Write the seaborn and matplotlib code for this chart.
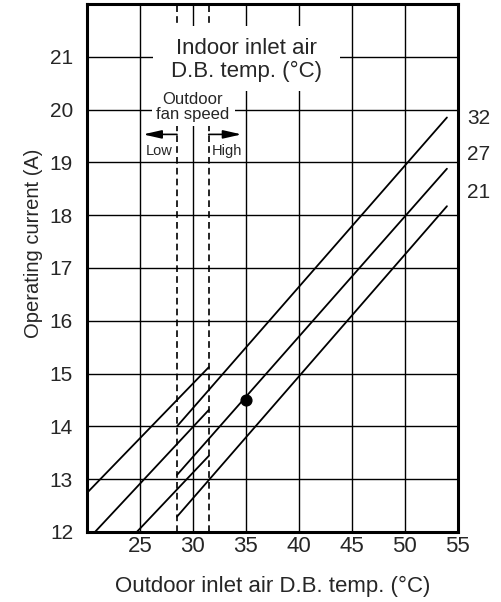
import numpy as np
import pandas as pd
import matplotlib.pyplot as plt
from matplotlib.patches import Rectangle
import seaborn as sns

# indoor inlet air D.B. temp. for each pair of lines
indoor_temps = ['32', '27', '21']

# low fan speed lines (left part, up to 31.5 C)
low_x_start = [20.0, 20.75, 24.7]
low_y_start = [12.74, 12.0, 12.0]
low_x_end = [31.5, 31.5, 31.5]
low_y_end = [15.12, 14.31, 13.44]

# high fan speed lines (from 28.5 C on)
high_x_start = [28.5, 28.5, 28.5]
high_y_start = [14.0, 13.08, 12.29]
high_x_end = [54.0, 54.0, 54.0]
high_y_end = [19.85, 18.88, 18.17]

label_y = [19.84, 19.15, 18.43]
fan_switch = [28.5, 31.5]
rated_x = [35.0]
rated_y = [14.5]
x_ticks = [25, 30, 35, 40, 45, 50, 55]
y_ticks = list(range(12, 22))

rows = []
for i, t in enumerate(indoor_temps):
    rows.append((t + '_low', low_x_start[i], low_y_start[i]))
    rows.append((t + '_low', low_x_end[i], low_y_end[i]))
    rows.append((t + '_high', high_x_start[i], high_y_start[i]))
    rows.append((t + '_high', high_x_end[i], high_y_end[i]))
df = pd.DataFrame(rows, columns=['seg', 'x', 'y'])

sns.set_style("white")
plt.rcParams['font.family'] = ['Liberation Sans', 'DejaVu Sans']

fig = plt.figure(figsize=(5.02, 6.02), dpi=100)
ax = fig.add_axes([0.1733, 0.1163, 0.7381, 0.8771])

sns.lineplot(data=df, x='x', y='y', units='seg', estimator=None, sort=False,
             color='black', lw=1.3, legend=False, ax=ax, zorder=3)
ax.scatter(rated_x, rated_y, s=60, color='black', zorder=4)

for xv in fan_switch:
    ax.axvline(xv, color='black', lw=1.2, ls=(0, (4, 2.5)), zorder=1)

ax.set_xlim(20, 55)
ax.set_ylim(12, 22)
ax.set_xticks(x_ticks)
ax.set_yticks(y_ticks)
ax.grid(True, color='black', lw=1.0)
ax.set_axisbelow(True)
ax.tick_params(axis='x', length=0, pad=3, labelsize=16)
ax.tick_params(axis='y', length=0, pad=10, labelsize=15)
for s in ax.spines.values():
    s.set_color('black')
    s.set_linewidth(2.2)

# white areas behind the notes
ax.add_patch(Rectangle((26.24, 20.35), 17.7, 1.23, facecolor='white',
                       edgecolor='none', zorder=2))
ax.add_patch(Rectangle((26.12, 19.69), 7.88, 0.66, facecolor='white',
                       edgecolor='none', zorder=2))

ax.text(35.1, 20.94, 'Indoor inlet air\nD.B. temp. (°C)', ha='center',
        va='center', fontsize=16, linespacing=1.15, zorder=5)
ax.text(30.0, 20.05, 'Outdoor\nfan speed', ha='center', va='center',
        fontsize=12, linespacing=0.95, zorder=5)

arrow = dict(arrowstyle='-|>,head_length=1.1,head_width=0.25', color='black',
             lw=1.2, shrinkA=0, shrinkB=0, mutation_scale=10)
ax.annotate('', xy=(25.3, 19.53), xytext=(28.5, 19.53), arrowprops=arrow)
ax.annotate('', xy=(34.6, 19.53), xytext=(31.5, 19.53), arrowprops=arrow)
ax.text(26.86, 19.21, 'Low', ha='center', va='center', fontsize=10.5)
ax.text(33.2, 19.21, 'High', ha='center', va='center', fontsize=10.5)

for t, yv in zip(indoor_temps, label_y):
    ax.text(55.92, yv, t, ha='left', va='center', fontsize=15, clip_on=False)

ax.set_xlabel('Outdoor inlet air D.B. temp. (°C)', fontsize=16)
ax.set_ylabel('Operating current (A)', fontsize=14.5)
ax.xaxis.set_label_coords(0.5, -0.083)
ax.yaxis.set_label_coords(-0.118, 0.547)

fig.savefig('out.png', dpi=100)
